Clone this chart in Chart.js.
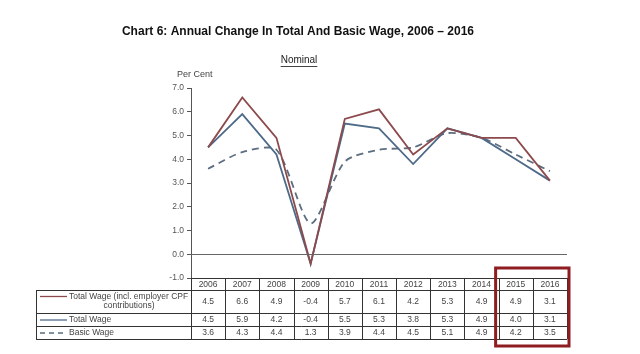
<!DOCTYPE html>
<html>
<head>
<meta charset="utf-8">
<script src="https://cdn.jsdelivr.net/npm/chart.js@4"></script>
<style>
  html, body { margin: 0; padding: 0; background: #fff; }
  #wrap { width: 640px; height: 354px; position: relative; }
</style>
</head>
<body>
<div id="wrap"><canvas id="chart" width="640" height="354"></canvas></div>
<script>
const years = ['2006', '2007', '2008', '2009', '2010', '2011', '2012', '2013', '2014', '2015', '2016'];
const totalWageCpf = [4.5, 6.6, 4.9, -0.4, 5.7, 6.1, 4.2, 5.3, 4.9, 4.9, 3.1];
const totalWage = [4.5, 5.9, 4.2, -0.4, 5.5, 5.3, 3.8, 5.3, 4.9, 4.0, 3.1];
const basicWage = [3.6, 4.3, 4.4, 1.3, 3.9, 4.4, 4.5, 5.1, 4.9, 4.2, 3.5];

const seriesNames = ['Total Wage (incl. employer CPF|contributions)', 'Total Wage', 'Basic Wage'];
const highlightYears = ['2015', '2016'];

const COL_CPF = '#8c4a4c';
const COL_TOTAL = '#4d6a88';
const COL_BASIC = '#5b6d7e';
const FONT = '"Liberation Sans", Arial, sans-serif';

// table under the plot + titles + zero line + red box
const tablePlugin = {
  id: 'tablePlugin',
  afterDraw(chart) {
    const { ctx, chartArea, scales } = chart;
    const x = scales.x, y = scales.y;
    const left = 36, colLeft = chartArea.left, right = chartArea.right;
    const step = x.getPixelForValue(1) - x.getPixelForValue(0);
    const rows = [chartArea.bottom, chartArea.bottom + 12, chartArea.bottom + 35, chartArea.bottom + 48, chartArea.bottom + 61];

    ctx.save();
    // title
    ctx.fillStyle = '#111';
    ctx.font = 'bold 12px ' + FONT;
    ctx.textAlign = 'center';
    ctx.textBaseline = 'middle';
    ctx.fillText('Chart 6: Annual Change In Total And Basic Wage, 2006 \u2013 2016', 298, 32);
    ctx.font = '10px ' + FONT;
    ctx.fillStyle = '#222';
    ctx.fillText('Nominal', 299, 60);
    const nw = ctx.measureText('Nominal').width;
    ctx.strokeStyle = '#444';
    ctx.lineWidth = 1;
    ctx.beginPath();
    ctx.moveTo(299 - nw / 2, 66.5);
    ctx.lineTo(299 + nw / 2, 66.5);
    ctx.stroke();
    ctx.font = '9px ' + FONT;
    ctx.textAlign = 'left';
    ctx.fillStyle = '#444';
    ctx.fillText('Per Cent', 177, 75);

    // zero line
    const y0 = Math.round(y.getPixelForValue(0)) + 0.5;
    ctx.strokeStyle = '#666';
    ctx.beginPath();
    ctx.moveTo(chartArea.left, y0);
    ctx.lineTo(right, y0);
    ctx.stroke();

    // table grid
    ctx.strokeStyle = '#333';
    ctx.lineWidth = 1;
    ctx.beginPath();
    rows.forEach((ry, i) => {
      const sx = i === 0 ? colLeft : left;
      ctx.moveTo(sx, Math.round(ry) + 0.5);
      ctx.lineTo(right, Math.round(ry) + 0.5);
    });
    ctx.moveTo(left + 0.5, rows[1]);
    ctx.lineTo(left + 0.5, rows[4]);
    for (let i = 0; i <= years.length; i++) {
      const cx = Math.round(colLeft + i * step) + 0.5;
      ctx.moveTo(cx, rows[0]);
      ctx.lineTo(cx, rows[4]);
    }
    ctx.stroke();

    // header and values
    ctx.font = '8.5px ' + FONT;
    ctx.fillStyle = '#444';
    ctx.textAlign = 'center';
    ctx.textBaseline = 'middle';
    const data = [totalWageCpf, totalWage, basicWage];
    years.forEach((yr, i) => {
      const cx = x.getPixelForValue(i);
      ctx.fillText(yr, cx, (rows[0] + rows[1]) / 2 + 0.5);
      data.forEach((arr, r) => {
        ctx.fillText(arr[i].toFixed(1), cx, (rows[r + 1] + rows[r + 2]) / 2 + 0.5);
      });
    });

    // row labels with line samples
    const cols = [COL_CPF, COL_TOTAL, COL_BASIC];
    seriesNames.forEach((name, r) => {
      const parts = name.split('|');
      const cy = parts.length > 1 ? rows[r + 1] + 6.5 : (rows[r + 1] + rows[r + 2]) / 2 + 0.5;
      ctx.strokeStyle = cols[r];
      ctx.lineWidth = 1.3;
      ctx.setLineDash(r === 2 ? [5, 4] : []);
      ctx.beginPath();
      ctx.moveTo(40, cy);
      ctx.lineTo(67, cy);
      ctx.stroke();
      ctx.setLineDash([]);
      ctx.fillStyle = '#444';
      ctx.textAlign = 'left';
      ctx.fillText(parts[0], 69, cy);
      if (parts[1]) {
        ctx.textAlign = 'center';
        ctx.fillText(parts[1], 129, cy + 9.5);
      }
    });

    // red highlight box
    const i0 = years.indexOf(highlightYears[0]);
    const i1 = years.indexOf(highlightYears[highlightYears.length - 1]);
    const bx0 = x.getPixelForValue(i0) - step / 2 - 3;
    const bx1 = x.getPixelForValue(i1) + step / 2 + 2;
    ctx.strokeStyle = '#8e1c20';
    ctx.lineWidth = 3;
    ctx.strokeRect(bx0, chartArea.bottom - 10, bx1 - bx0, rows[4] - chartArea.bottom + 17);
    ctx.restore();
  }
};

new Chart(document.getElementById('chart'), {
  type: 'line',
  data: {
    labels: years,
    datasets: [
      { label: 'Total Wage (incl. employer CPF contributions)', data: totalWageCpf, borderColor: COL_CPF, borderWidth: 1.8, pointRadius: 0, tension: 0 },
      { label: 'Total Wage', data: totalWage, borderColor: COL_TOTAL, borderWidth: 1.8, pointRadius: 0, tension: 0 },
      { label: 'Basic Wage', data: basicWage, borderColor: COL_BASIC, borderWidth: 1.8, borderDash: [7, 5], pointRadius: 0, tension: 0.25 }
    ]
  },
  options: {
    responsive: false,
    animation: false,
    devicePixelRatio: 1,
    layout: { padding: { left: 151, right: 73, top: 88, bottom: 76 } },
    plugins: { legend: { display: false }, tooltip: { enabled: false }, title: { display: false } },
    scales: {
      x: { display: false, offset: true },
      y: {
        min: -1, max: 7,
        afterFit(scale) { scale.width = 40; },
        ticks: { stepSize: 1, padding: 3, color: '#555', font: { family: FONT, size: 8.5 }, callback: v => Number(v).toFixed(1) },
        grid: { drawOnChartArea: false, drawTicks: true, tickLength: 4, color: '#555' },
        border: { display: true, color: '#555' }
      }
    }
  },
  plugins: [tablePlugin]
});
</script>
</body>
</html>
